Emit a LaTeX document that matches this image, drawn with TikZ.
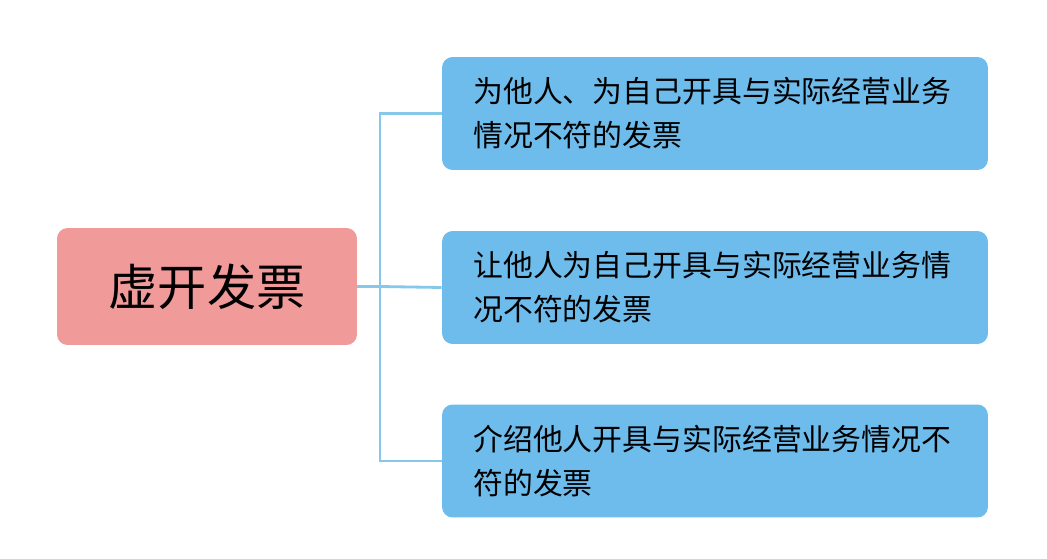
\documentclass[tikz,border=0pt]{standalone}
\usepackage{fontspec}
\newfontfamily\cjk{Noto Sans CJK SC}
\definecolor{rootpink}{HTML}{F09A9A}
\definecolor{leafblue}{HTML}{6EBCEC}
\definecolor{linkblue}{HTML}{86C8EA}
\begin{document}
\begin{tikzpicture}[x=0.02cm,y=-0.02cm,
		rootbox/.style={draw=none,fill=rootpink,rounded corners=6pt,minimum width=6cm,minimum height=2.34cm},
		leafbox/.style={draw=none,fill=leafblue,rounded corners=6pt,minimum width=10.92cm,minimum height=2.26cm},
		leaftext/.style={anchor=west,align=left,font=\cjk\fontsize{17}{25}\selectfont,inner sep=0pt},
		link/.style={draw=linkblue,line width=1.6pt}]
		\useasboundingbox (0,0) rectangle (1047,558);
		\node[rootbox] (root) at (207,286.5) {};
		\node[font=\cjk\fontsize{28}{30}\selectfont] (title) at (root) {虚开发票};
		\node[leafbox] (a) at (715,113.5) {};
		\node[leafbox] (b) at (715,287.5) {};
		\node[leafbox] (c) at (715,461) {};
		\node[leaftext] (ta) at (473,113.5) {为他人、为自己开具与实际经营业务\\情况不符的发票};
		\node[leaftext] (tb) at (473,287.5) {让他人为自己开具与实际经营业务情\\况不符的发票};
		\node[leaftext] (tc) at (473,461) {介绍他人开具与实际经营业务情况不\\符的发票};
		\coordinate (fork) at (380,286.5);
		\draw[link] (root.east) -- (fork);
		\draw[link] (a.west) -| (fork) |- (c.west);
		\draw[link] (fork) -- (b.west);
\end{tikzpicture}
\end{document}
